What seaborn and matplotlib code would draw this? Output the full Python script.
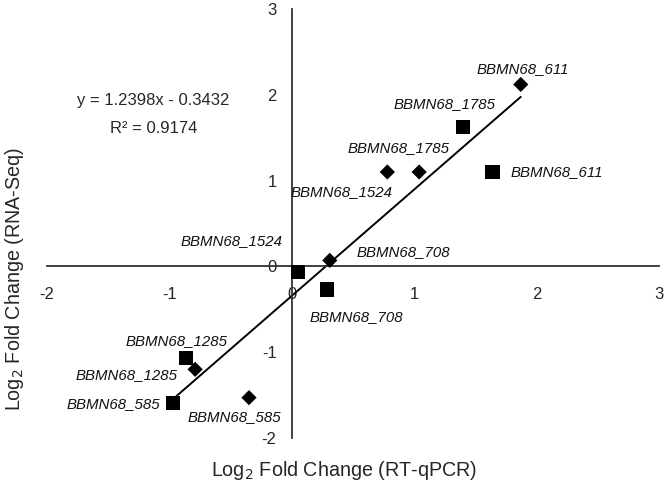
import numpy as np
import pandas as pd
import matplotlib
matplotlib.use("Agg")
import matplotlib.pyplot as plt
import seaborn as sns

# gene labels and fold changes, two marker groups (diamonds / squares)
diamond_genes = ["BBMN68_611", "BBMN68_1785", "BBMN68_1524", "BBMN68_708", "BBMN68_1285", "BBMN68_585"]
diamond_x = [1.87, 1.04, 0.78, 0.31, -0.79, -0.35]
diamond_y = [2.12, 1.10, 1.10, 0.07, -1.20, -1.53]

square_genes = ["BBMN68_1785", "BBMN68_611", "BBMN68_1524", "BBMN68_708", "BBMN68_1285", "BBMN68_585"]
square_x = [1.40, 1.64, 0.05, 0.29, -0.865, -0.97]
square_y = [1.62, 1.10, -0.07, -0.27, -1.07, -1.59]

slope = 1.2398
intercept = -0.3432
r2 = 0.9174

x_ticks = [-2, -1, 0, 1, 2, 3]
y_ticks = [-2, -1, 0, 1, 2, 3]

# label offsets in pixels (dx, dy, ha, va)
diamond_offsets = [(2, 15, "center", "center"), (-21, 24, "center", "center"),
                   (-46, -20, "center", "center"), (27, 8, "left", "center"),
                   (-18, -6, "right", "center"), (-15, -19, "center", "center")]
square_offsets = [(-19, 23, "center", "center"), (18, 0, "left", "center"),
                  (-15, 31, "right", "center"), (29, -27, "center", "center"),
                  (-9, 17, "center", "center"), (-13, -1, "right", "center")]

sns.set_theme(style="white")
plt.rcParams['font.family'] = ['Liberation Sans', 'DejaVu Sans']

df = pd.DataFrame({
    "x": diamond_x + square_x,
    "y": diamond_y + square_y,
    "gene": diamond_genes + square_genes,
    "group": ["diamond"] * len(diamond_x) + ["square"] * len(square_x),
})

fig = plt.figure(figsize=(6.66, 4.92), dpi=100)
ax = fig.add_axes([0.0706, 0.1098, 0.919, 0.872])

# trend line over the data range
x_line = np.array([df["x"].min(), df["x"].max()])
sns.lineplot(x=x_line, y=slope * x_line + intercept, color="black", linewidth=1.4, ax=ax)

sns.scatterplot(data=df, x="x", y="y", style="group", size="group",
                markers={"diamond": "D", "square": "s"},
                sizes={"diamond": 60, "square": 105},
                color="black", linewidth=0, legend=False, ax=ax, zorder=3)

offsets = diamond_offsets + square_offsets
for (gx, gy, name), (dx, dy, ha, va) in zip(df[["x", "y", "gene"]].values, offsets):
    ax.annotate(name, (gx, gy), xytext=(dx, dy), textcoords="offset pixels",
                ha=ha, va=va, fontsize=10.8, style="italic", color="#111111")

ax.text(-1.13, 1.93, f"y = {slope}x - {abs(intercept)}", ha="center", va="center", fontsize=12)
ax.text(-1.13, 1.61, f"R² = {r2}", ha="center", va="center", fontsize=12)

ax.set_xlim(-2, 3)
ax.set_ylim(-2, 3)
ax.set_xticks(x_ticks)
ax.set_yticks(y_ticks)
ax.set_xticklabels([str(t) for t in x_ticks])
ax.set_yticklabels([str(t) for t in y_ticks])

for side in ["top", "right"]:
    ax.spines[side].set_visible(False)
ax.spines["left"].set_position(("data", 0))
ax.spines["bottom"].set_position(("data", 0))
for side in ["left", "bottom"]:
    ax.spines[side].set_color("#333333")
    ax.spines[side].set_linewidth(1.3)

ax.tick_params(axis="x", direction="out", length=4, width=1.1, color="#333333", pad=11, labelsize=12)
ax.tick_params(axis="y", direction="out", length=5, width=1.1, color="#333333", pad=6, labelsize=12)

ax.set_xlabel("Log$_2$ Fold Change (RT-qPCR)", fontsize=14.2)
ax.set_ylabel("Log$_2$ Fold Change (RNA-Seq)", fontsize=14.2)
ax.xaxis.set_label_coords(0.486, -0.049)
ax.yaxis.set_label_coords(-0.035, 0.37)

fig.savefig("out.png", dpi=100, facecolor="white")
